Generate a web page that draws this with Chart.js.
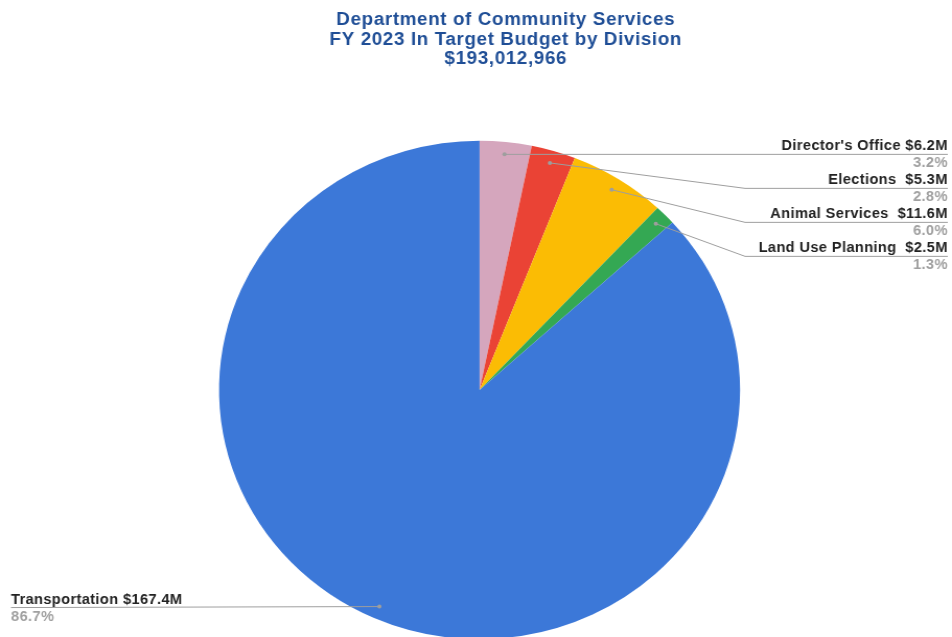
<!DOCTYPE html>
<html>
<head>
<meta charset="utf-8">
<script src="https://cdn.jsdelivr.net/npm/chart.js@4"></script>
<style>
  html, body { margin: 0; padding: 0; background: #fff; overflow: hidden; }
  #wrap { width: 952px; height: 637px; overflow: hidden; position: relative; }
  /* the reference picture is slightly stretched horizontally */
  #stretch { width: 911px; height: 700px; transform: scaleX(1.045); transform-origin: 0 0; }
</style>
</head>
<body>
<div id="wrap"><div id="stretch"><canvas id="budgetChart" width="911" height="700"></canvas></div></div>
<script>
// Department of Community Services - FY 2023 budget by division

const titleLines = ['Department of Community Services', 'FY 2023 In Target Budget by Division', '$193,012,966'];
const divisions = ['Director\'s Office', 'Elections', 'Animal Services', 'Land Use Planning', 'Transportation'];
const amountLabels = ['$6.2M', '$5.3M', '$11.6M', '$2.5M', '$167.4M'];
const amounts = [6.2, 5.3, 11.6, 2.5, 167.4];
const percentLabels = ['3.2%', '2.8%', '6.0%', '1.3%', '86.7%'];
const sliceColors = ['#d5a6bd', '#ea4335', '#fbbc04', '#34a853', '#3c78d8'];
const labelSeparators = [' ', '  ', '  ', '  ', ' '];

// Draws the title and the leader-line labels
const calloutPlugin = {
    id: 'callouts',
    afterDraw(chart) {
        const ctx = chart.ctx;
        ctx.save();

        // title
        ctx.fillStyle = '#1f4e96';
        ctx.font = 'bold 18px "Liberation Sans", Arial, sans-serif';
        ctx.letterSpacing = '0.6px';
        ctx.textAlign = 'center';
        ctx.textBaseline = 'alphabetic';
        const titleBase = [25, 44.5, 64];
        titleLines.forEach((t, i) => ctx.fillText(t, 484, titleBase[i]));

        const rightEdge = 907;
        const leftEdge = 10.5;
        const elbowX = 713;

        const meta = chart.getDatasetMeta(0);
        let prevY = null;
        meta.data.forEach((arc, i) => {
            const p = arc.getProps(['x', 'y', 'startAngle', 'endAngle', 'outerRadius'], true);
            const mid = (p.startAngle + p.endAngle) / 2;
            const ax = p.x + Math.cos(mid) * p.outerRadius * 0.95;
            const ay = p.y + Math.sin(mid) * p.outerRadius * 0.95;
            const rightSide = Math.cos(mid) >= 0;
            const text = divisions[i] + labelSeparators[i] + amountLabels[i];

            ctx.strokeStyle = '#9e9e9e';
            ctx.lineWidth = 1;
            ctx.beginPath();
            let ly;
            if (rightSide) {
                ly = prevY === null ? ay : Math.max(ay, prevY + 34);
                prevY = ly;
                ctx.moveTo(ax, ay);
                ctx.lineTo(elbowX, ly);
                ctx.lineTo(rightEdge, ly);
            } else {
                ly = ay + 1;
                ctx.moveTo(ax, ay);
                ctx.lineTo(leftEdge, ly);
            }
            ctx.stroke();

            // anchor dot
            ctx.fillStyle = '#9e9e9e';
            ctx.beginPath();
            ctx.arc(ax, ay, 2, 0, Math.PI * 2);
            ctx.fill();

            ctx.font = 'bold 14px "Liberation Sans", Arial, sans-serif';
            ctx.letterSpacing = '0.35px';
            ctx.textAlign = rightSide ? 'right' : 'left';
            const tx = rightSide ? rightEdge : leftEdge;
            ctx.fillStyle = '#222222';
            ctx.fillText(text, tx, ly - 4);
            ctx.fillStyle = '#a0a0a0';
            ctx.fillText(percentLabels[i], tx, ly + 13);
        });
        ctx.restore();
    }
};

function initializeBudgetChart() {
    const ctx = document.getElementById('budgetChart');
    if (!ctx) return;

    new Chart(ctx, {
        type: 'pie',
        data: {
            labels: divisions,
            datasets: [{
                data: amounts,
                backgroundColor: sliceColors,
                borderWidth: 0,
                hoverOffset: 0
            }]
        },
        options: {
            responsive: false,
            animation: false,
            devicePixelRatio: 1,
            layout: {
                padding: { left: 209.6, right: 202.8, top: 140.7, bottom: 60.7 }
            },
            plugins: {
                legend: { display: false },
                title: { display: false },
                tooltip: { enabled: false }
            }
        },
        plugins: [calloutPlugin]
    });
}

document.addEventListener('DOMContentLoaded', initializeBudgetChart);
</script>
</body>
</html>
